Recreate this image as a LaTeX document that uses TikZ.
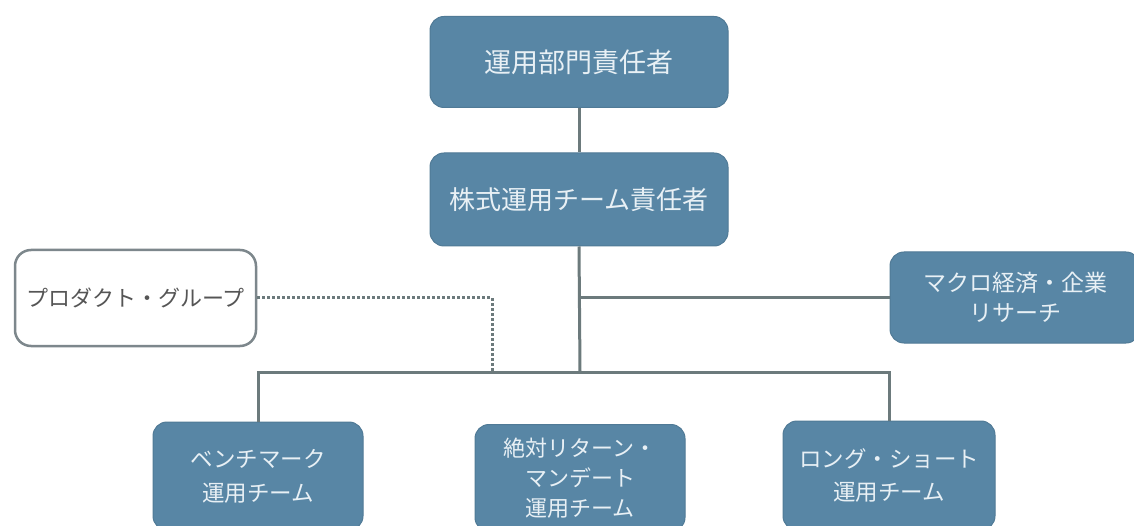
\documentclass[tikz,border=0pt]{standalone}
\usepackage{fontspec}
\newfontfamily\jp{Noto Sans CJK JP}
\definecolor{boxblue}{RGB}{88,134,165}
\definecolor{boxedge}{RGB}{80,122,150}
\definecolor{boxtext}{RGB}{232,240,245}
\definecolor{linegray}{RGB}{108,122,124}
\definecolor{pgborder}{RGB}{125,135,140}
\definecolor{pgtext}{RGB}{85,85,85}
\begin{document}
\begin{tikzpicture}[x=1pt,y=-1pt,
  bluebox/.style={draw=boxedge, line width=1pt, fill=boxblue, rounded corners=14pt,
    text=boxtext, align=center, inner sep=0pt},
  whitebox/.style={draw=pgborder, line width=2.5pt, fill=white, rounded corners=16pt,
    text=pgtext, align=center, inner sep=0pt},
  conn/.style={draw=linegray, line width=3pt},
  dotconn/.style={draw=linegray, line width=3pt, dash pattern=on 2.5pt off 2.5pt}]
\useasboundingbox (0,0) rectangle (1134,526);
\fill[white] (0,0) rectangle (1134,526);

\node[bluebox, minimum width=298pt, minimum height=91pt,
  font=\jp\fontsize{27}{30}\selectfont] (top) at (579,62) {運用部門責任者};
\node[bluebox, minimum width=298pt, minimum height=93pt,
  font=\jp\fontsize{26}{30}\selectfont] (second) at (579,199.5) {株式運用チーム責任者};
\node[bluebox, minimum width=250pt, minimum height=91pt,
  font=\jp\fontsize{23}{30}\selectfont] (macro) at (1015,297.5) {マクロ経済・企業\\リサーチ};
\node[whitebox, minimum width=241pt, minimum height=96pt,
  font=\jp\fontsize{22}{28}\selectfont] (pg) at (135.5,298) {プロダクト・グループ};

\node[bluebox, minimum width=210pt, minimum height=108pt,
  font=\jp\fontsize{22.5}{34}\selectfont] (bench) at (258,476) {ベンチマーク\\運用チーム};
\node[bluebox, minimum width=210pt, minimum height=107pt,
  font=\jp\fontsize{22}{30}\selectfont] (abs) at (580,478) {絶対リターン・\\マンデート\\運用チーム};
\node[bluebox, minimum width=212pt, minimum height=109pt,
  font=\jp\fontsize{22.5}{33}\selectfont] (ls) at (889,475.5) {ロング・ショート\\運用チーム};

\coordinate (bus) at (580,372);
\coordinate (dj) at (492,372);

\draw[conn] (top.south) -- (second.north);
\draw[conn] (second.south) -- (bus);
\draw[conn] (second.south |- macro.west) -- (macro.west);
\draw[conn] (bench.north) -- (bench.north |- bus) -- (ls.north |- bus) -- (ls.north);
\draw[dotconn] (pg.east) -| (dj);
\end{tikzpicture}
\end{document}
